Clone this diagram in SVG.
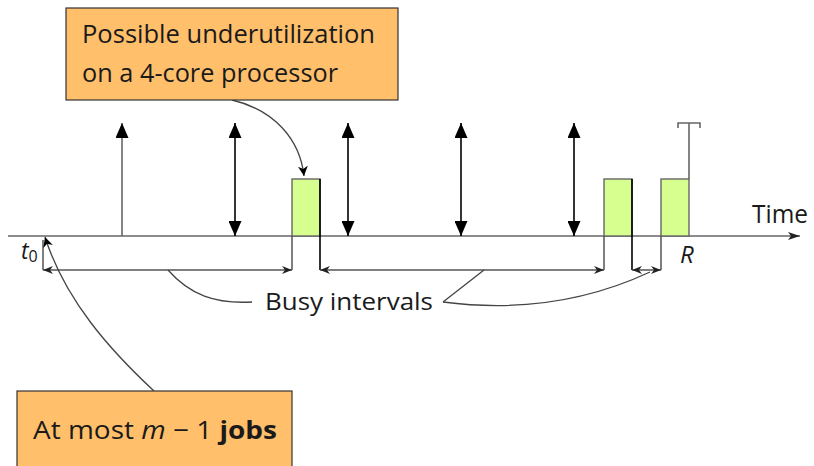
<svg xmlns="http://www.w3.org/2000/svg" width="814" height="466" viewBox="0 0 814 466">
<defs>
<style>
.t{font-family:"Open Sans","Liberation Sans",sans-serif;fill:#1a1a1a}
.ax{stroke:#666;stroke-width:1.6;fill:none}
.job{stroke:#000;stroke-width:1.6;fill:none}
.box{fill:#ffbf6b;stroke:#333;stroke-width:1.2}
.exec{fill:#d6ff90;stroke:#666;stroke-width:1.4}
.thin{stroke:#444;stroke-width:1.3;fill:none}
.bi{stroke:#555;stroke-width:1.5;fill:none}
</style>
<marker id="big" viewBox="0 0 15 13" refX="15" refY="6.5" markerWidth="15" markerHeight="13" markerUnits="userSpaceOnUse" orient="auto-start-reverse">
<path d="M0,0 L15,6.5 L0,13 Z" fill="#000"/>
</marker>
<marker id="sm" viewBox="0 0 10 8" refX="10" refY="4" markerWidth="10" markerHeight="8" markerUnits="userSpaceOnUse" orient="auto-start-reverse">
<path d="M0,0 L10,4 L0,8 L3,4 Z" fill="#222"/>
</marker>
<marker id="ax" viewBox="0 0 12 8" refX="12" refY="4" markerWidth="12" markerHeight="8" markerUnits="userSpaceOnUse" orient="auto">
<path d="M0,0 L12,4 L0,8 L3,4 Z" fill="#222"/>
</marker>
<marker id="cv" viewBox="0 0 10 10" refX="10" refY="5" markerWidth="10" markerHeight="10" markerUnits="userSpaceOnUse" orient="auto">
<path d="M0,0 L10,5 L0,10 L3,5 Z" fill="#000"/>
</marker>
</defs>

<g id="axis">
<line class="ax" x1="8" y1="236" x2="800" y2="236" marker-end="url(#ax)"/>
<text class="t" x="752" y="223" font-size="25" textLength="56" lengthAdjust="spacingAndGlyphs">Time</text>
</g>

<g id="executions">
<rect class="exec" x="292" y="179" width="28" height="57"/>
<rect class="exec" x="604" y="179" width="28" height="57"/>
<rect class="exec" x="661" y="179" width="28" height="57"/>
</g>

<g id="deadline">
<polyline class="ax" points="689,179 689,123"/>
<polyline class="ax" points="678,128 678,123 700,123 700,128"/>
<text class="t" x="680" y="263" font-size="24" font-style="italic">R</text>
</g>

<g id="jobs">
<line class="ax" x1="122" y1="236" x2="122" y2="123" marker-end="url(#big)"/>
<line class="job" x1="235" y1="123" x2="235" y2="236" marker-start="url(#big)" marker-end="url(#big)"/>
<line class="job" x1="348" y1="123" x2="348" y2="236" marker-start="url(#big)" marker-end="url(#big)"/>
<line class="job" x1="461" y1="123" x2="461" y2="236" marker-start="url(#big)" marker-end="url(#big)"/>
<line class="job" x1="574" y1="123" x2="574" y2="236" marker-start="url(#big)" marker-end="url(#big)"/>
</g>

<g id="t0">
<text class="t" x="21" y="259" font-size="23" font-style="italic">t<tspan font-size="16" font-style="normal" dy="3">0</tspan></text>
</g>

<g id="connectors">
<line class="bi" x1="43" y1="240" x2="43" y2="270"/>
<line class="bi" x1="292" y1="236" x2="292" y2="270"/>
<line class="job" x1="320" y1="179" x2="320" y2="270"/>
<line class="bi" x1="604" y1="236" x2="604" y2="270"/>
<line class="job" x1="632" y1="179" x2="632" y2="270"/>
<line class="bi" x1="661" y1="236" x2="661" y2="270"/>
<line class="bi" x1="43" y1="270" x2="292" y2="270" marker-start="url(#sm)" marker-end="url(#sm)"/>
<line class="bi" x1="320" y1="270" x2="604" y2="270" marker-start="url(#sm)" marker-end="url(#sm)"/>
<line class="bi" x1="632" y1="270" x2="661" y2="270" marker-start="url(#sm)" marker-end="url(#sm)"/>
<path class="thin" d="M168,270 C190,295 215,304 252,302"/>
<path class="thin" d="M484,270 L443,302"/>
<path class="thin" d="M443,302 C520,312 590,300 650,272"/>
<path class="thin" d="M232,100 C275,110 300,140 304,176" marker-end="url(#cv)"/>
<path class="thin" d="M154,391 C110,350 65,300 45,237" marker-end="url(#cv)"/>
</g>

<g id="busy-label">
<text class="t" x="265" y="310" font-size="23" textLength="168" lengthAdjust="spacingAndGlyphs">Busy intervals</text>
</g>

<g id="note-top">
<rect class="box" x="66" y="8" width="332" height="92"/>
<text class="t" x="82" y="43" font-size="25" textLength="293" lengthAdjust="spacingAndGlyphs">Possible underutilization</text>
<text class="t" x="82" y="82" font-size="25" textLength="256" lengthAdjust="spacingAndGlyphs">on a 4-core processor</text>
</g>

<g id="note-bottom">
<rect class="box" x="17" y="391" width="275" height="80"/>
<text class="t" x="33" y="439" font-size="25" textLength="244" lengthAdjust="spacingAndGlyphs">At most <tspan font-style="italic">m</tspan> − 1 <tspan font-weight="bold">jobs</tspan></text>
</g>
</svg>
